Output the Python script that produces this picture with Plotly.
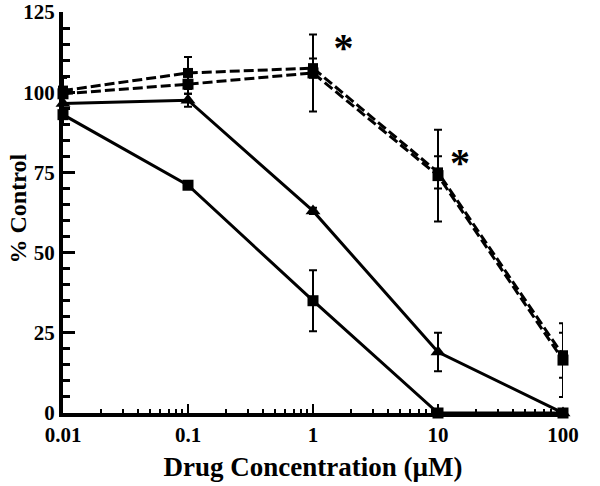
import plotly.graph_objects as go

conc = [0.01, 0.1, 1, 10, 100]

# Solid squares
a_vals = [93, 71, 35, 0, 0]
a_err = [3, 1, 9.5, 0, 0]
# Solid triangles
b_vals = [96.5, 97.5, 63, 19, 0]
b_err = [2, 2, 1, 6, 0]
# Dashed series 1
c_vals = [99.5, 102.5, 106, 74, 16.5]
c_err = [5, 3, 12, 14.3, 11.5]
# Dashed series 2
d_vals = [100.5, 106, 107.5, 75, 18]
d_err = [4, 5, 3, 5, 7]

star_x = [1.75, 15, 165]
star_y = [113, 77, 18]

xtick_vals = [0.01, 0.1, 1, 10, 100]
xtick_text = ["0.01", "0.1", "1", "10", "100"]
ytick_vals = [0, 25, 50, 75, 100, 125]

FONT = "Liberation Serif"

fig = go.Figure()

def add_series(vals, err, symbol, size, dash):
    fig.add_trace(go.Scatter(
        x=conc, y=vals, mode="lines+markers",
        line=dict(color="black", width=3, dash=dash),
        marker=dict(symbol=symbol, size=size, color="black"),
        error_y=dict(type="data", array=err, visible=True, color="black",
                     thickness=2, width=4),
        cliponaxis=False, showlegend=False,
    ))

add_series(d_vals, d_err, "square", 10, "10px,4px")
add_series(c_vals, c_err, "square", 11, "10px,4px")
add_series(a_vals, a_err, "square", 11, "solid")
add_series(b_vals, b_err, "triangle-up", 13, "solid")

fig.add_trace(go.Scatter(
    x=star_x, y=star_y, mode="text", text=["*"] * len(star_x),
    textfont=dict(family=FONT, size=40, color="black"),
    textposition="middle center", cliponaxis=False, showlegend=False,
))

fig.update_layout(
    width=600, height=486,
    margin=dict(l=63, r=37, t=12, b=73),
    paper_bgcolor="white", plot_bgcolor="white",
    font=dict(family=FONT, color="black", size=17, weight="bold"),
    annotations=[dict(
        text="% Control", xref="paper", yref="paper", x=-0.09, y=0.51,
        xanchor="center", yanchor="middle", textangle=-90, showarrow=False,
        font=dict(family=FONT, size=24, weight="bold", color="black"),
    )],
)

fig.update_xaxes(
    type="log", range=[-2, 2], automargin=False,
    tickvals=xtick_vals, ticktext=xtick_text,
    ticks="inside", ticklen=9, tickwidth=2, tickcolor="black",
    minor=dict(ticks="inside", ticklen=4, tickwidth=2, tickcolor="black", dtick="D1"),
    showline=True, linewidth=4, linecolor="black",
    showgrid=False, zeroline=False, ticklabeloverflow="allow",
    tickfont=dict(family=FONT, size=21, weight="bold"),
    title=dict(text="Drug Concentration (µM)", font=dict(family=FONT, size=27, weight="bold"), standoff=12),
)

fig.update_yaxes(
    range=[0, 125], tickvals=ytick_vals, automargin=False,
    ticks="inside", ticklen=12, tickwidth=3, tickcolor="black",
    minor=dict(ticks="inside", ticklen=7, tickwidth=3, tickcolor="black", dtick=5),
    showline=True, linewidth=4, linecolor="black",
    showgrid=False, zeroline=False, ticklabeloverflow="allow",
    tickfont=dict(family=FONT, size=21, weight="bold"),
)

fig.write_html("out.html", config={"displayModeBar": False},
               post_script="document.body.style.margin='0';")
